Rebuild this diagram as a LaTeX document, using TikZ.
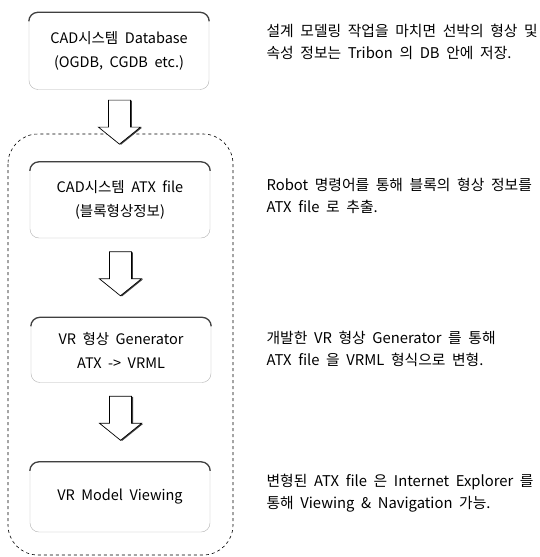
\documentclass[tikz,border=0pt]{standalone}
\usepackage{fontspec}
\setmainfont{Noto Sans CJK KR}[WordSpace=2]
\usetikzlibrary{calc}

\tikzset{
  procbox/.style={draw=black!30, line width=0.4pt, rounded corners=9pt,
    minimum width=180pt, align=center, font=\fontsize{14.5}{24}\selectfont},
  boxtop/.style={draw=black!75, line width=1.3pt},
  flowarrow/.pic={
    \fill[black!75] (-9.5,-21.4) -- (12.5,-21.4) -- (12.5,5.6) -- (22.5,5.6)
      -- (1.5,22.6) -- (-19.5,5.6) -- (-9.5,5.6) -- cycle;
    \draw[fill=white, line width=0.7pt] (-11,-22) -- (11,-22) -- (11,5) -- (21,5)
      -- (0,22) -- (-21,5) -- (-11,5) -- cycle;
  },
  note/.style={anchor=west, align=left, font=\fontsize{14.8}{22}\selectfont}
}

\begin{document}
\begin{tikzpicture}[x=1pt,y=-1pt]
    \useasboundingbox (0,0) rectangle (539,557);
    % process chain
    \draw[dashed, line width=0.6pt, rounded corners=30pt] (8,134) rectangle (233,555);
    \node[procbox, minimum height=77pt] (dbase) at (119,51) {CAD시스템 Database\\(OGDB, CGDB etc.)};
    \node[procbox, minimum height=76pt] (atx) at (120,200) {CAD시스템 ATX file\\(블록형상정보)};
    \node[procbox, minimum height=65pt] (gen) at (121,350) {VR 형상 Generator\\ATX -> VRML};
    \node[procbox, minimum height=70pt] (view) at (120,497) {VR Model Viewing};
    \foreach \n in {dbase,atx,gen,view}
      \draw[boxtop] ([yshift=-9pt]\n.north west) arc[start angle=180, end angle=90, radius=9pt]
        -- ([xshift=-9pt]\n.north east) arc[start angle=90, end angle=0, radius=9pt];
    \pic at ($(dbase.south)!0.45!(atx.north)$) {flowarrow};
    \pic at ($(atx.south)!0.45!(gen.north)$) {flowarrow};
    \pic at ($(gen.south)!0.45!(view.north)$) {flowarrow};
    % notes
    \node[note] (n1) at (263,42) {설계 모델링 작업을 마치면 선박의 형상 및\\속성 정보는 Tribon 의 DB 안에 저장.};
    \node[note] (n2) at (263,196) {Robot 명령어를 통해 블록의 형상 정보를\\ATX file 로 추출.};
    \node[note] (n3) at (263,349) {개발한 VR 형상 Generator 를 통해\\ATX file 을 VRML 형식으로 변형.};
    \node[note] (n4) at (263,493) {변형된 ATX file 은 Internet Explorer 를\\통해 Viewing \& Navigation 가능.};
\end{tikzpicture}
\end{document}
